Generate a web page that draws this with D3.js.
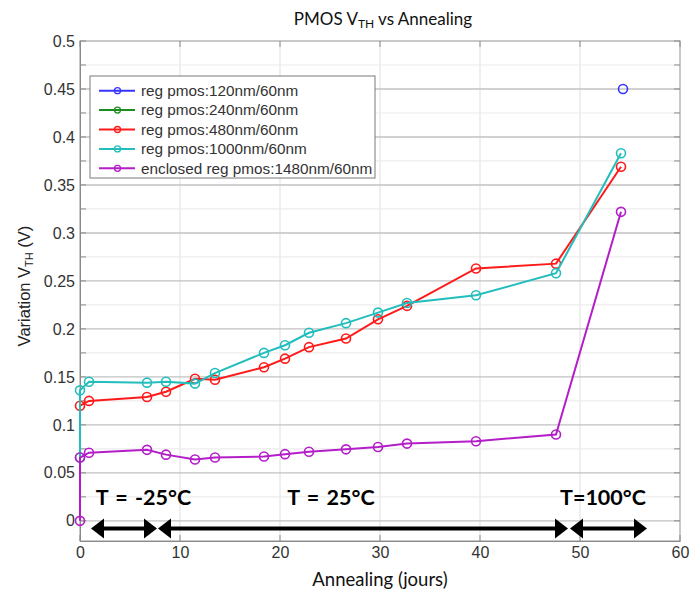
<!DOCTYPE html>
<html><head><meta charset="utf-8">
<script src="https://cdn.jsdelivr.net/npm/d3@7"></script>
<style>body{margin:0;background:#fff}</style>
</head><body><svg id="c" width="691" height="595"></svg>
<script>
// ---- data ----
const seriesNames = ["reg pmos:120nm/60nm","reg pmos:240nm/60nm","reg pmos:480nm/60nm","reg pmos:1000nm/60nm","enclosed reg pmos:1480nm/60nm"];
const seriesColors = ["#3535ff","#1c8c1c","#ff1a1a","#22bdbd","#b41ec8"];
const days = [0, 0.9, 6.7, 8.6, 11.5, 13.5, 18.4, 20.5, 22.9, 26.6, 29.8, 32.7, 39.6, 47.6, 54.1];
const blueDays = [54.3];
const blueVals = [0.45];
const greenDays = [];
const greenVals = [];
const redDays = days;
const redVals = [0.120, 0.125, 0.129, 0.1345, 0.148, 0.147, 0.160, 0.169, 0.181, 0.190, 0.210, 0.224, 0.263, 0.268, 0.369];
const cyanDays = [0].concat(days);
const cyanVals = [0.066, 0.136, 0.145, 0.144, 0.145, 0.143, 0.154, 0.175, 0.183, 0.196, 0.206, 0.217, 0.227, 0.235, 0.258, 0.383];
const magentaDays = [0].concat(days);
const magentaVals = [0, 0.066, 0.071, 0.074, 0.069, 0.064, 0.066, 0.067, 0.0695, 0.072, 0.0745, 0.077, 0.0805, 0.083, 0.090, 0.322];
const xTicks = [0, 10, 20, 30, 40, 50, 60];
const yTicks = [0, 0.05, 0.1, 0.15, 0.2, 0.25, 0.3, 0.35, 0.4, 0.45, 0.5];
const yMinor = [0.025, 0.075, 0.125, 0.175, 0.225, 0.275, 0.325, 0.375, 0.425, 0.475];
const periodLabels = ["T = -25°C", "T = 25°C", "T=100°C"];
const periodCenters = [6.35, 25.1, 52.3];
const periodStarts = [1.1, 7.8, 49.0];
const periodEnds = [7.7, 48.8, 56.7];
const periodTextY = 0.0165;
const periodArrowY = -0.008;

const series = [
  {name: seriesNames[0], color: seriesColors[0], x: blueDays, y: blueVals},
  {name: seriesNames[1], color: seriesColors[1], x: greenDays, y: greenVals},
  {name: seriesNames[2], color: seriesColors[2], x: redDays, y: redVals},
  {name: seriesNames[3], color: seriesColors[3], x: cyanDays, y: cyanVals},
  {name: seriesNames[4], color: seriesColors[4], x: magentaDays, y: magentaVals}
];

// ---- layout ----
const L = 80, R = 680, T = 41, B = 541;
const svg = d3.select("#c");
const x = d3.scaleLinear().domain([0, 60]).range([L, R]);
const y = d3.scaleLinear().domain([-0.021, 0.5]).range([B, T]);
const tickFont = "Liberation Sans, Arial, sans-serif";

// gridlines
const grid = svg.append("g");
grid.selectAll(".vg").data(xTicks.slice(1, -1)).join("line")
  .attr("x1", d => x(d)).attr("x2", d => x(d)).attr("y1", T).attr("y2", B)
  .attr("stroke", "#e6e6e6").attr("stroke-width", 1.3);
grid.selectAll(".hm").data(yMinor).join("line")
  .attr("x1", L).attr("x2", R).attr("y1", d => y(d)).attr("y2", d => y(d))
  .attr("stroke", "#ececec").attr("stroke-width", 1.2);
grid.selectAll(".hg").data(yTicks.slice(0, -1)).join("line")
  .attr("x1", L).attr("x2", R).attr("y1", d => y(d)).attr("y2", d => y(d))
  .attr("stroke", "#c2c2c2").attr("stroke-width", 1.4);

// frame
svg.append("rect").attr("x", L).attr("y", T).attr("width", R - L).attr("height", B - T)
  .attr("fill", "none").attr("stroke", "#a6a6a6").attr("stroke-width", 1.2);

// tick marks (inward)
const tk = svg.append("g").attr("stroke", "#8a8a8a").attr("stroke-width", 1);
const allY = yTicks.concat(yMinor);
tk.selectAll(".tl").data(allY).join("line").attr("x1", L).attr("x2", L + 6).attr("y1", d => y(d)).attr("y2", d => y(d));
tk.selectAll(".tr").data(allY).join("line").attr("x1", R).attr("x2", R - 6).attr("y1", d => y(d)).attr("y2", d => y(d));
tk.selectAll(".tt").data(xTicks).join("line").attr("x1", d => x(d)).attr("x2", d => x(d)).attr("y1", T).attr("y2", T + 6);
tk.selectAll(".tb").data(xTicks).join("line").attr("x1", d => x(d)).attr("x2", d => x(d)).attr("y1", B).attr("y2", B - 6);

// axes (labels only)
const ax = svg.append("g").attr("transform", `translate(${L},0)`)
  .call(d3.axisLeft(y).tickValues(yTicks).tickSize(0).tickPadding(5).tickFormat(d => String(+d.toFixed(3))));
ax.select(".domain").attr("stroke", "#8a8a8a");
ax.selectAll("text").attr("font-family", tickFont).attr("font-size", 16).attr("fill", "#333");
const bx = svg.append("g").attr("transform", `translate(0,${B})`)
  .call(d3.axisBottom(x).tickValues(xTicks).tickSize(0).tickPadding(6));
bx.select(".domain").attr("stroke", "#8a8a8a");
bx.selectAll("text").attr("font-family", tickFont).attr("font-size", 16).attr("fill", "#333");

// series
const lineGen = d3.line().x(d => x(d[0])).y(d => y(d[1]));
series.forEach(s => {
  const pts = s.x.map((d, i) => [d, s.y[i]]);
  const g = svg.append("g");
  if (pts.length > 1) g.append("path").attr("d", lineGen(pts)).attr("fill", "none")
    .attr("stroke", s.color).attr("stroke-width", 2);
  g.selectAll("circle").data(pts).join("circle")
    .attr("cx", d => x(d[0])).attr("cy", d => y(d[1])).attr("r", 4.5)
    .attr("fill", "none").attr("stroke", s.color).attr("stroke-width", 1.6);
});

// period annotations
const ann = svg.append("g");
ann.selectAll("text").data(periodLabels).join("text")
  .attr("x", (d, i) => x(periodCenters[i])).attr("y", y(periodTextY))
  .attr("text-anchor", "middle").attr("font-family", "Lato, sans-serif").attr("font-weight", 700)
  .attr("font-size", 21.5).attr("fill", "#000").attr("word-spacing", 2).text(d => d);
const ay = y(periodArrowY), hl = 13, hh = 10;
periodStarts.forEach((s, i) => {
  const x0 = x(s), x1 = x(periodEnds[i]);
  ann.append("line").attr("x1", x0 + hl - 1).attr("x2", x1 - hl + 1).attr("y1", ay).attr("y2", ay)
    .attr("stroke", "#000").attr("stroke-width", 4);
  ann.append("path").attr("d", `M${x0},${ay}L${x0 + hl},${ay - hh}L${x0 + hl},${ay + hh}Z`).attr("fill", "#000");
  ann.append("path").attr("d", `M${x1},${ay}L${x1 - hl},${ay - hh}L${x1 - hl},${ay + hh}Z`).attr("fill", "#000");
});

// legend
const lg = svg.append("g");
lg.append("rect").attr("x", 90).attr("y", 76).attr("width", 285).attr("height", 102)
  .attr("fill", "#fff").attr("stroke", "#7a7a7a").attr("stroke-width", 1);
series.forEach((s, i) => {
  const yy = 90.7 + i * 19.4;
  lg.append("line").attr("x1", 99).attr("x2", 135).attr("y1", yy).attr("y2", yy).attr("stroke", s.color).attr("stroke-width", 2);
  lg.append("circle").attr("cx", 117.5).attr("cy", yy).attr("r", 3).attr("fill", "none").attr("stroke", s.color).attr("stroke-width", 1.3);
  lg.append("text").attr("x", 141).attr("y", yy + 5.3).attr("font-family", tickFont).attr("font-size", 15.3)
    .attr("fill", "#333").text(s.name);
});

// titles
const title = svg.append("text").attr("x", 383).attr("y", 25).attr("text-anchor", "middle")
  .attr("font-family", "Lato, sans-serif").attr("font-size", 17).attr("fill", "#111");
title.append("tspan").text("PMOS V");
title.append("tspan").attr("font-size", 12).attr("dy", 3).text("TH");
title.append("tspan").attr("dy", -3).text(" vs Annealing");

svg.append("text").attr("x", 380).attr("y", 586).attr("text-anchor", "middle")
  .attr("font-family", "Lato, sans-serif").attr("font-size", 18.5).attr("fill", "#111").text("Annealing (jours)");

const yl = svg.append("text").attr("transform", "translate(30,286) rotate(-90)").attr("text-anchor", "middle")
  .attr("font-family", tickFont).attr("font-size", 16.5).attr("fill", "#222");
yl.append("tspan").text("Variation V");
yl.append("tspan").attr("font-size", 11).attr("dy", 3).text("TH");
yl.append("tspan").attr("dy", -3).text(" (V)");
</script></body></html>
